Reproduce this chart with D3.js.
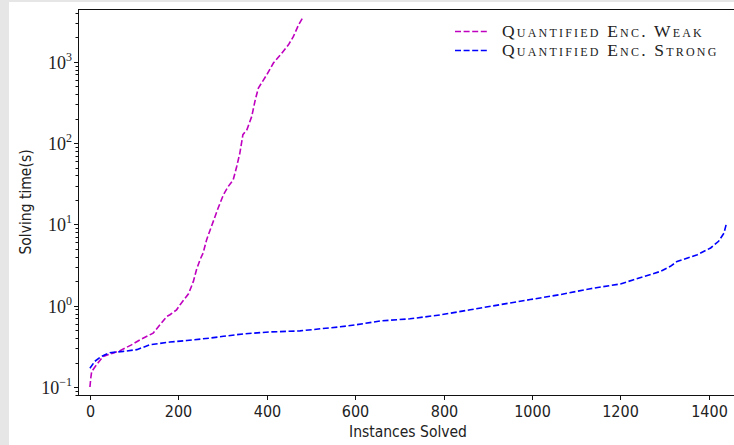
<!DOCTYPE html>
<html>
<head>
<meta charset="utf-8">
<script src="https://cdn.jsdelivr.net/npm/d3@7/dist/d3.min.js"></script>
<style>
  body { margin: 0; background: #e6e6e6; }
  svg { display: block; }
  .tick-x { font-family: "DejaVu Sans", sans-serif; font-stretch: condensed; font-size: 16px; fill: #222; }
  .tick-y { font-family: "Liberation Serif", serif; font-size: 18px; fill: #222; }
  .axis-label { font-family: "DejaVu Sans", sans-serif; font-stretch: condensed; font-size: 15.5px; fill: #222; }
  .legend-text { font-family: "Liberation Serif", serif; font-size: 17.5px; font-variant: small-caps; letter-spacing: 2.2px; fill: #222; }
</style>
</head>
<body>
<div id="chart"></div>
<script>
// DATA
var weakX = [0, 2, 4, 15, 30, 53, 68, 94, 113, 143, 174, 181, 196, 204, 223, 234, 241, 249, 256, 264, 275, 290, 302, 313, 324, 332, 339, 346, 355, 366, 374, 381, 400, 415, 434, 449, 460, 472, 483];
var weakY = [0.10, 0.13, 0.155, 0.188, 0.238, 0.262, 0.28, 0.33, 0.38, 0.46, 0.74, 0.775, 0.89, 1.03, 1.4, 1.99, 2.77, 3.68, 4.45, 6.5, 9.5, 15.9, 23.2, 29.4, 35.3, 51.5, 75, 127, 146, 213, 342, 475, 695, 966, 1280, 1620, 2040, 2860, 3620];

var strongX = [0, 11, 26, 45, 75, 106, 136, 181, 219, 272, 302, 347, 406, 475, 566, 600, 657, 724, 792, 860, 928, 996, 1064, 1132, 1200, 1230, 1290, 1313, 1328, 1374, 1404, 1422, 1434, 1440];
var strongY = [0.17, 0.207, 0.238, 0.264, 0.274, 0.288, 0.331, 0.357, 0.373, 0.40, 0.42, 0.45, 0.475, 0.49, 0.55, 0.58, 0.65, 0.69, 0.77, 0.89, 1.03, 1.19, 1.37, 1.62, 1.85, 2.09, 2.64, 3.05, 3.5, 4.24, 5.13, 6.2, 7.8, 10.4];

var seriesNames = ["Quantified Enc. Weak", "Quantified Enc. Strong"];
var seriesColors = ["#bf00bf", "#0000ff"];

var xTicks = [0, 200, 400, 600, 800, 1000, 1200, 1400];
var yTicks = [0.1, 1, 10, 100, 1000];
var yTickExp = ["\u22121", "0", "1", "2", "3"];

// SET UP CHART
var svgWidth = 734;
var svgHeight = 445;

var svg = d3.select("#chart")
  .append("svg")
  .attr("width", svgWidth)
  .attr("height", svgHeight);

// white figure area (gray strip on left/top like the screenshot)
svg.append("rect")
  .attr("x", 9)
  .attr("y", 2)
  .attr("width", svgWidth - 9)
  .attr("height", svgHeight - 2)
  .attr("fill", "#ffffff");

// SCALES
var xScale = d3.scaleLinear()
  .domain([-27, 1480])
  .range([78, 78 + 1507 * 0.4421]);

var yScale = d3.scaleLog()
  .domain([0.0797, 4467])
  .range([395, 9]);

var plotLeft = xScale(-27), plotRight = xScale(1480);
var plotTop = yScale(4467), plotBottom = yScale(0.0797);

// CURVES
var line = d3.line()
  .x(d => xScale(d[0]))
  .y(d => yScale(d[1]));

var weakData = weakX.map((x, i) => [x, weakY[i]]);
var strongData = strongX.map((x, i) => [x, strongY[i]]);

svg.append("path")
  .datum(weakData)
  .attr("d", line)
  .attr("fill", "none")
  .attr("stroke", seriesColors[0])
  .attr("stroke-width", 1.6)
  .attr("stroke-dasharray", "6,2.6");

svg.append("path")
  .datum(strongData)
  .attr("d", line)
  .attr("fill", "none")
  .attr("stroke", seriesColors[1])
  .attr("stroke-width", 1.6)
  .attr("stroke-dasharray", "6,2.6");

// SPINES
var spine = svg.append("g").attr("stroke", "#111").attr("stroke-width", 1).attr("fill", "none");
spine.append("line").attr("x1", plotLeft).attr("x2", plotRight).attr("y1", plotTop + 0.5).attr("y2", plotTop + 0.5);
spine.append("line").attr("x1", plotLeft).attr("x2", plotRight).attr("y1", plotBottom + 0.5).attr("y2", plotBottom + 0.5);
spine.append("line").attr("x1", plotLeft + 0.5).attr("x2", plotLeft + 0.5).attr("y1", plotTop).attr("y2", plotBottom + 1);

// X AXIS TICKS
var xAxisG = svg.append("g");
xTicks.forEach(function(t) {
  var px = Math.round(xScale(t)) + 0.5;
  xAxisG.append("line")
    .attr("x1", px).attr("x2", px)
    .attr("y1", plotBottom + 1).attr("y2", plotBottom + 5)
    .attr("stroke", "#111");
  xAxisG.append("text")
    .attr("class", "tick-x")
    .attr("x", px)
    .attr("y", plotBottom + 22)
    .attr("text-anchor", "middle")
    .text(t);
});

// Y AXIS TICKS (major + minor)
var yAxisG = svg.append("g");
yTicks.forEach(function(t, i) {
  var py = Math.round(yScale(t)) + 0.5;
  yAxisG.append("line")
    .attr("x1", plotLeft - 4).attr("x2", plotLeft)
    .attr("y1", py).attr("y2", py)
    .attr("stroke", "#111");
  var txt = yAxisG.append("text")
    .attr("class", "tick-y")
    .attr("x", plotLeft - 6)
    .attr("y", py + 6)
    .attr("text-anchor", "end");
  txt.append("tspan").text("10");
  txt.append("tspan").attr("dy", -8).style("font-size", "12px").text(yTickExp[i]);
});

var minorTicks = [];
[0.01, 0.1, 1, 10, 100, 1000].forEach(function(dec) {
  for (var k = 2; k <= 9; k++) {
    var v = dec * k;
    if (v > 0.0797 && v < 4467) minorTicks.push(v);
  }
});
minorTicks.forEach(function(v) {
  var py = Math.round(yScale(v)) + 0.5;
  yAxisG.append("line")
    .attr("x1", plotLeft - 2.5).attr("x2", plotLeft)
    .attr("y1", py).attr("y2", py)
    .attr("stroke", "#111");
});

// AXIS LABELS
svg.append("text")
  .attr("class", "axis-label")
  .attr("x", 408)
  .attr("y", 437)
  .attr("text-anchor", "middle")
  .text("Instances Solved");

svg.append("text")
  .attr("class", "axis-label")
  .attr("transform", "translate(31," + ((plotTop + plotBottom) / 2) + ") rotate(-90)")
  .attr("text-anchor", "middle")
  .text("Solving time(s)");

// LEGEND
var legend = svg.append("g");
seriesNames.forEach(function(name, i) {
  var ly = 31.5 + i * 19;
  legend.append("line")
    .attr("x1", 455).attr("x2", 488)
    .attr("y1", ly).attr("y2", ly)
    .attr("stroke", seriesColors[i])
    .attr("stroke-width", 1.6)
    .attr("stroke-dasharray", "6,2.6");
  legend.append("text")
    .attr("class", "legend-text")
    .attr("x", 502)
    .attr("y", ly + 5)
    .text(name);
});
</script>
</body>
</html>
